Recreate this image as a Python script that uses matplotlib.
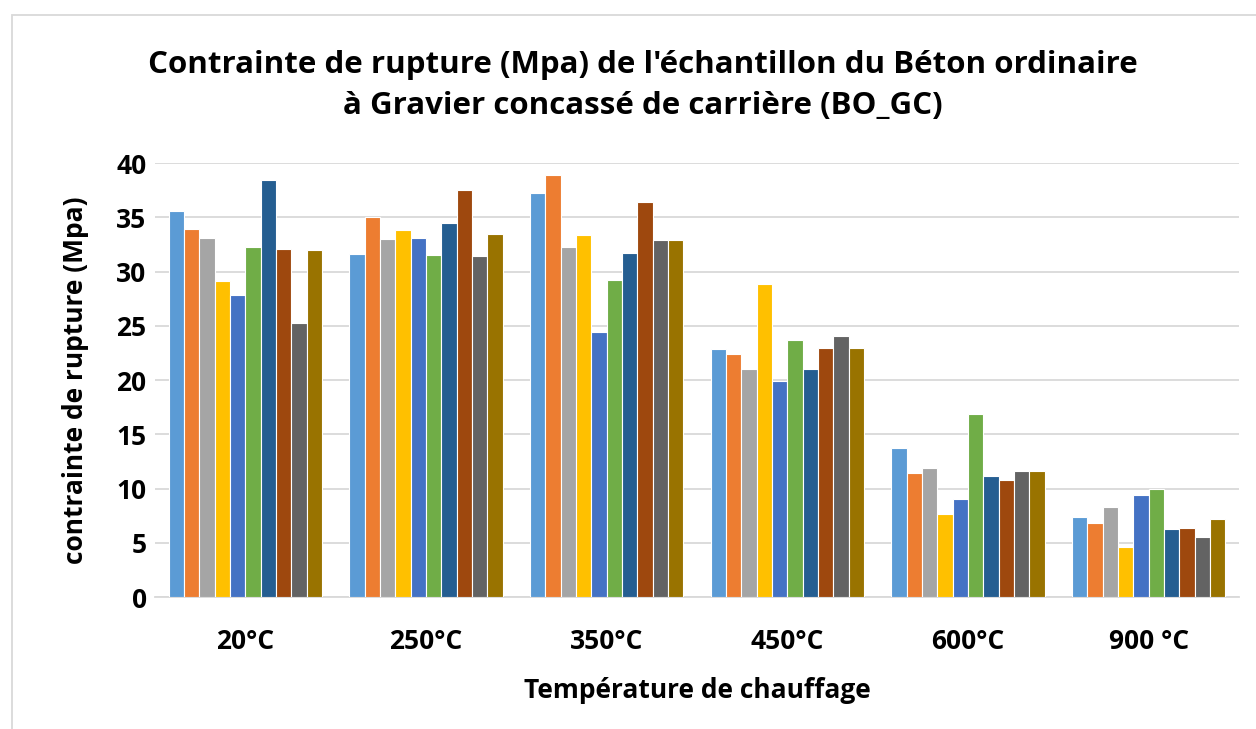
import numpy as np
import matplotlib.pyplot as plt
from matplotlib.patches import Rectangle

categories = ['20°C', '250°C', '350°C', '450°C', '600°C', '900 °C']

# one list per sample (10 samples), values per temperature
s1 = [35.6, 31.6, 37.2, 22.9, 13.7, 7.4]
s2 = [33.9, 35.0, 38.9, 22.4, 11.4, 6.8]
s3 = [33.1, 33.0, 32.3, 21.0, 11.9, 8.3]
s4 = [29.1, 33.8, 33.4, 28.9, 7.7, 4.6]
s5 = [27.8, 33.1, 24.4, 19.9, 9.0, 9.4]
s6 = [32.3, 31.5, 29.2, 23.7, 16.9, 10.0]
s7 = [38.4, 34.5, 31.7, 21.0, 11.2, 6.3]
s8 = [32.1, 37.5, 36.4, 23.0, 10.8, 6.4]
s9 = [25.3, 31.4, 32.9, 24.1, 11.6, 5.5]
s10 = [32.0, 33.5, 32.9, 23.0, 11.6, 7.2]
series = [s1, s2, s3, s4, s5, s6, s7, s8, s9, s10]

colors = ['#5B9BD5', '#ED7D31', '#A5A5A5', '#FFC000', '#4472C4',
          '#70AD47', '#255E91', '#9E480E', '#636363', '#997300']

plt.rcParams['font.family'] = ['Open Sans', 'DejaVu Sans']
plt.rcParams['font.weight'] = 'bold'

fig = plt.figure(figsize=(12.56, 7.29), dpi=100)
ax = fig.add_axes([0.1234, 0.181, 0.863, 0.5953])

x = np.arange(len(categories))
w = 0.085
for i, vals in enumerate(series):
    ax.bar(x + (i - 4.5) * w, vals, width=w, color=colors[i],
           edgecolor='white', linewidth=0.8, zorder=3)

ax.set_xlim(-0.5, len(categories) - 0.5)
ax.set_ylim(0, 40)
ax.set_yticks(range(0, 41, 5))
ax.set_xticks(x)
ax.set_xticklabels(categories, fontsize=19, fontweight='bold')
ax.tick_params(axis='y', labelsize=19, length=0, pad=6)
ax.tick_params(axis='x', length=0, pad=22)
for lbl in ax.get_yticklabels():
    lbl.set_fontweight('bold')
ax.grid(axis='y', color='#D9D9D9', linewidth=1.3, zorder=0)
for sp in ['top', 'right', 'left']:
    ax.spines[sp].set_visible(False)
ax.spines['bottom'].set_color('#D9D9D9')
ax.spines['bottom'].set_linewidth(1.3)

ax.set_xlabel('Température de chauffage', fontsize=19, fontweight='bold', labelpad=16)
ax.set_ylabel('contrainte de rupture (Mpa)', fontsize=19, fontweight='bold', labelpad=20)

fig.text(0.512, 0.883, "Contrainte de rupture (Mpa) de l'échantillon du Béton ordinaire\n"
         "à Gravier concassé de carrière (BO_GC)", ha='center', va='center',
         fontsize=22.5, fontweight='bold', linespacing=1.5)

fig.patches.append(Rectangle((12 / 1256, -0.1), 1.2, 1.1 - 15 / 729,
                             transform=fig.transFigure, fill=False,
                             edgecolor='#D9D9D9', linewidth=1.3))

fig.savefig('out.png', dpi=100)
